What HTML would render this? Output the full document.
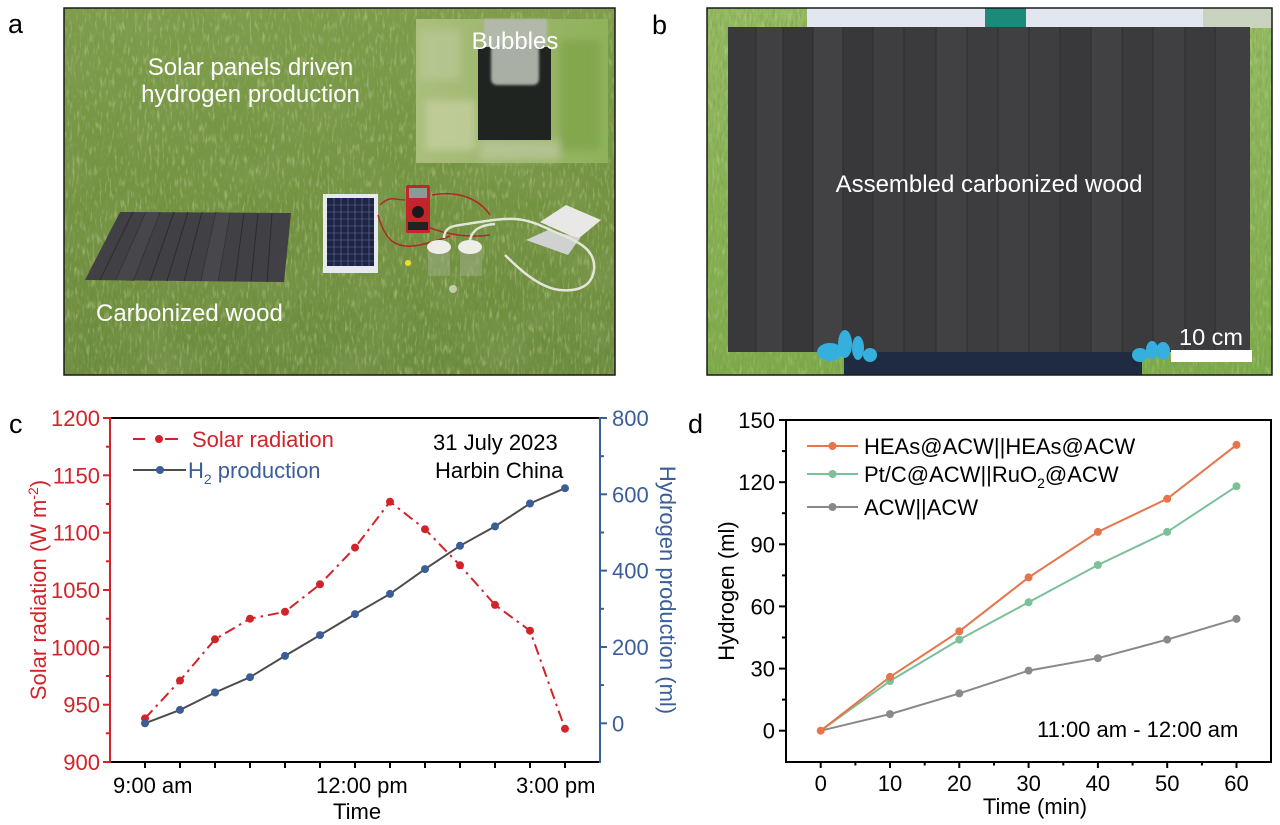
<!DOCTYPE html>
<html>
<head>
<meta charset="utf-8">
<style>
html,body{margin:0;padding:0;background:#fff;}
svg{display:block;}
text{font-family:"Liberation Sans",Arial,sans-serif;}
</style>
</head>
<body>
<svg width="1280" height="825" viewBox="0 0 1280 825" xmlns="http://www.w3.org/2000/svg">
<defs>
  <filter id="gdark" x="0" y="0" width="1" height="1" filterUnits="objectBoundingBox">
    <feTurbulence type="fractalNoise" baseFrequency="0.45 0.1" numOctaves="2" seed="4"/>
    <feColorMatrix type="matrix" values="0 0 0 0 0.2  0 0 0 0 0.3  0 0 0 0 0.08  1.8 0 0 0 -0.75"/>
  </filter>
  <filter id="glight" x="0" y="0" width="1" height="1" filterUnits="objectBoundingBox">
    <feTurbulence type="fractalNoise" baseFrequency="0.4 0.09" numOctaves="2" seed="11"/>
    <feColorMatrix type="matrix" values="0 0 0 0 0.72  0 0 0 0 0.78  0 0 0 0 0.45  1.6 0 0 0 -0.85"/>
  </filter>
  <filter id="blotch" x="0" y="0" width="1" height="1" filterUnits="objectBoundingBox">
    <feTurbulence type="fractalNoise" baseFrequency="0.015 0.02" numOctaves="2" seed="7"/>
    <feColorMatrix type="matrix" values="0 0 0 0 0.25  0 0 0 0 0.35  0 0 0 0 0.1  1.5 0 0 0 -0.6"/>
  </filter>
  <filter id="blur3"><feGaussianBlur stdDeviation="4"/></filter>
  <filter id="blur1"><feGaussianBlur stdDeviation="1.2"/></filter>
  <linearGradient id="grassA" x1="0" y1="0" x2="0" y2="1">
    <stop offset="0" stop-color="#7d9e4b"/>
    <stop offset="0.5" stop-color="#72933f"/>
    <stop offset="1" stop-color="#6a8b3c"/>
  </linearGradient>
  <linearGradient id="grassB" x1="0" y1="0" x2="0" y2="1">
    <stop offset="0" stop-color="#94bb62"/>
    <stop offset="1" stop-color="#7eac4a"/>
  </linearGradient>
  <linearGradient id="insetG" x1="0" y1="0" x2="1" y2="0">
    <stop offset="0" stop-color="#aabf7c"/>
    <stop offset="0.5" stop-color="#9db56d"/>
    <stop offset="1" stop-color="#8fb25a"/>
  </linearGradient>
</defs>

<!-- ================= Panel a ================= -->
<text x="8" y="33" font-size="27" fill="#000">a</text>
<rect x="64" y="8" width="551" height="367" fill="url(#grassA)"/>
<rect x="64" y="8" width="551" height="367" filter="url(#blotch)" opacity="0.6"/>
<rect x="64" y="8" width="551" height="367" filter="url(#gdark)"/>
<rect x="64" y="8" width="551" height="367" filter="url(#glight)" opacity="0.7"/>

<!-- inset bubbles -->
<rect x="416" y="19" width="192" height="144" fill="url(#insetG)"/>
<g filter="url(#blur3)" opacity="0.8">
  <rect x="425" y="100" width="50" height="50" fill="#c4cf9e"/>
  <rect x="560" y="40" width="40" height="110" fill="#7ea54a"/>
  <rect x="420" y="30" width="40" height="50" fill="#b7c894"/>
  <rect x="480" y="140" width="80" height="20" fill="#b8c79a"/>
</g>
<rect x="484" y="19" width="63" height="30" fill="#b2b9aa" filter="url(#blur1)"/>
<rect x="478" y="47" width="73" height="93" fill="#1f2421"/>
<rect x="491" y="45" width="48" height="40" rx="6" fill="#a9afa4" filter="url(#blur1)"/>
<text x="515" y="49" font-size="24" fill="#fff" text-anchor="middle">Bubbles</text>

<!-- carbonized wood -->
<polygon points="120,212 291,213 284,282 85,280" fill="#414145"/>
<g stroke="#2c2c30" stroke-width="1">
  <line x1="133" y1="212" x2="100" y2="280"/><line x1="146" y1="212" x2="116" y2="280"/>
  <line x1="160" y1="212" x2="133" y2="281"/><line x1="174" y1="212" x2="150" y2="281"/>
  <line x1="188" y1="212" x2="167" y2="281"/><line x1="202" y1="212" x2="184" y2="281"/>
  <line x1="216" y1="212" x2="201" y2="281"/><line x1="230" y1="213" x2="218" y2="281"/>
  <line x1="244" y1="213" x2="235" y2="281"/><line x1="258" y1="213" x2="251" y2="281"/>
  <line x1="272" y1="213" x2="267" y2="282"/>
</g>
<polygon points="146,212 160,212 133,281 116,280" fill="#4a4a4f" opacity="0.7"/>
<polygon points="216,212 230,213 218,281 201,281" fill="#4b4b50" opacity="0.7"/>

<!-- solar panel -->
<rect x="323" y="194" width="55" height="79" fill="#e6e9ef"/>
<rect x="327" y="198" width="47" height="68" fill="#1d2446"/>
<g stroke="#6a7396" stroke-width="0.6">
  <line x1="327" y1="205" x2="374" y2="205"/><line x1="327" y1="212" x2="374" y2="212"/>
  <line x1="327" y1="219" x2="374" y2="219"/><line x1="327" y1="226" x2="374" y2="226"/>
  <line x1="327" y1="233" x2="374" y2="233"/><line x1="327" y1="240" x2="374" y2="240"/>
  <line x1="327" y1="247" x2="374" y2="247"/><line x1="327" y1="254" x2="374" y2="254"/>
  <line x1="327" y1="261" x2="374" y2="261"/>
  <line x1="334" y1="198" x2="334" y2="266"/><line x1="341" y1="198" x2="341" y2="266"/>
  <line x1="348" y1="198" x2="348" y2="266"/><line x1="355" y1="198" x2="355" y2="266"/>
  <line x1="362" y1="198" x2="362" y2="266"/><line x1="369" y1="198" x2="369" y2="266"/>
</g>
<!-- wires -->
<g fill="none" stroke="#b3262a" stroke-width="1.5">
  <path d="M380,205 C390,195 395,200 405,200"/>
  <path d="M378,215 C385,240 395,250 420,245 C440,240 445,238 450,236"/>
  <path d="M430,228 C450,235 470,238 490,235"/>
  <path d="M432,195 C460,190 480,200 490,215"/>
</g>
<!-- multimeter -->
<rect x="406" y="185" width="24" height="48" rx="2" fill="#c4252a"/>
<rect x="409" y="188" width="18" height="10" fill="#8b9a98"/>
<circle cx="418" cy="212" r="6" fill="#1a1a1a"/>
<rect x="408" y="222" width="20" height="8" fill="#222"/>
<!-- jars -->
<rect x="428" y="248" width="22" height="28" fill="#9fae8a" opacity="0.5"/>
<rect x="460" y="248" width="22" height="28" fill="#9fae8a" opacity="0.5"/>
<ellipse cx="439" cy="247" rx="12" ry="7" fill="#eeeee8"/>
<ellipse cx="470" cy="247" rx="12" ry="7" fill="#eeeee8"/>
<!-- plates -->
<polygon points="540,222 566,205 601,220 578,239" fill="#e8e8e6"/>
<polygon points="526,240 548,230 580,238 568,255" fill="#cfd2d0"/>
<!-- tube -->
<path d="M444,238 C444,228 452,226 460,225 C480,222 500,218 515,219 C530,220 540,225 555,232 C580,242 596,250 594,270 C592,285 580,292 560,290 C540,288 520,270 505,255" fill="none" stroke="#e3e6da" stroke-width="2.5"/>
<path d="M470,240 C472,230 480,225 495,224" fill="none" stroke="#e3e6da" stroke-width="2.5"/>
<circle cx="408" cy="263" r="3" fill="#f2dd2a"/>
<circle cx="453" cy="289" r="4" fill="#d8dcc4" opacity="0.8"/>

<text x="250.5" y="75" font-size="24" fill="#fff" text-anchor="middle">Solar panels driven</text>
<text x="250.5" y="102" font-size="24" fill="#fff" text-anchor="middle">hydrogen production</text>
<text x="96" y="321" font-size="24" fill="#fff">Carbonized wood</text>
<rect x="64" y="8" width="551" height="367" fill="none" stroke="#1a1a1a" stroke-width="1.5"/>

<!-- ================= Panel b ================= -->
<text x="652" y="34" font-size="27" fill="#000">b</text>
<rect x="707" y="8" width="565" height="367" fill="url(#grassB)"/>
<rect x="707" y="8" width="565" height="367" filter="url(#gdark)" opacity="0.7"/>
<rect x="707" y="8" width="565" height="367" filter="url(#glight)" opacity="0.6"/>
<rect x="807" y="8" width="396" height="20" fill="#e2e6f1"/>
<rect x="985" y="8" width="41" height="20" fill="#1b8a79"/>
<rect x="1203" y="8" width="69" height="20" fill="#c9d3bf"/>
<!-- board -->
<rect x="728" y="27" width="522" height="325" fill="#3c3c3f"/>
<g>
  <rect x="728" y="27" width="28" height="325" fill="#39393c"/>
  <rect x="756" y="27" width="27" height="325" fill="#403f42"/>
  <rect x="783" y="27" width="30" height="325" fill="#37373a"/>
  <rect x="813" y="27" width="30" height="325" fill="#424245"/>
  <rect x="843" y="27" width="30" height="325" fill="#38383b"/>
  <rect x="873" y="27" width="31" height="325" fill="#3e3e41"/>
  <rect x="904" y="27" width="32" height="325" fill="#3b3b3e"/>
  <rect x="936" y="27" width="31" height="325" fill="#414144"/>
  <rect x="967" y="27" width="31" height="325" fill="#3d3d40"/>
  <rect x="998" y="27" width="31" height="325" fill="#404043"/>
  <rect x="1029" y="27" width="31" height="325" fill="#3e3e41"/>
  <rect x="1060" y="27" width="31" height="325" fill="#39393c"/>
  <rect x="1091" y="27" width="31" height="325" fill="#414144"/>
  <rect x="1122" y="27" width="31" height="325" fill="#3b3b3e"/>
  <rect x="1153" y="27" width="32" height="325" fill="#404043"/>
  <rect x="1185" y="27" width="30" height="325" fill="#3b3b3e"/>
  <rect x="1215" y="27" width="35" height="325" fill="#3f3f42"/>
</g>
<g stroke="#2e2e31" stroke-width="1">
  <line x1="756" y1="27" x2="756" y2="352"/><line x1="783" y1="27" x2="783" y2="352"/>
  <line x1="813" y1="27" x2="813" y2="352"/><line x1="843" y1="27" x2="843" y2="352"/>
  <line x1="873" y1="27" x2="873" y2="352"/><line x1="904" y1="27" x2="904" y2="352"/>
  <line x1="936" y1="27" x2="936" y2="352"/><line x1="967" y1="27" x2="967" y2="352"/>
  <line x1="998" y1="27" x2="998" y2="352"/><line x1="1029" y1="27" x2="1029" y2="352"/>
  <line x1="1060" y1="27" x2="1060" y2="352"/><line x1="1091" y1="27" x2="1091" y2="352"/>
  <line x1="1122" y1="27" x2="1122" y2="352"/><line x1="1153" y1="27" x2="1153" y2="352"/>
  <line x1="1185" y1="27" x2="1185" y2="352"/><line x1="1215" y1="27" x2="1215" y2="352"/>
</g>
<rect x="844" y="352" width="298" height="23" fill="#1e2b40"/>
<!-- gloves -->
<g fill="#35b0de">
  <ellipse cx="830" cy="352" rx="13" ry="9"/>
  <ellipse cx="845" cy="344" rx="7" ry="14"/>
  <ellipse cx="858" cy="348" rx="6" ry="12"/>
  <ellipse cx="870" cy="355" rx="7" ry="7"/>
  <ellipse cx="1140" cy="355" rx="8" ry="7"/>
  <ellipse cx="1152" cy="350" rx="6" ry="9"/>
  <ellipse cx="1163" cy="351" rx="7" ry="9"/>
</g>
<rect x="1171" y="350" width="81" height="12" fill="#fff"/>
<text x="1211" y="345" font-size="23.5" fill="#fff" text-anchor="middle">10 cm</text>
<text x="989" y="192" font-size="24" fill="#fff" text-anchor="middle">Assembled carbonized wood</text>
<rect x="707" y="8" width="565" height="367" fill="none" stroke="#1a1a1a" stroke-width="1.5"/>

<!-- ================= Panel c ================= -->
<text x="9" y="433" font-size="27" fill="#000">c</text>
<line x1="110" y1="418" x2="600" y2="418" stroke="#000" stroke-width="2"/>
<line x1="109" y1="762" x2="601" y2="762" stroke="#000" stroke-width="2"/>
<line x1="110" y1="417" x2="110" y2="763" stroke="#d2232a" stroke-width="2"/>
<line x1="600" y1="417" x2="600" y2="763" stroke="#3b5e99" stroke-width="2"/>
<g stroke="#d2232a" stroke-width="2">
  <line x1="103" y1="418" x2="110" y2="418"/><line x1="103" y1="475.3" x2="110" y2="475.3"/>
  <line x1="103" y1="532.7" x2="110" y2="532.7"/><line x1="103" y1="590" x2="110" y2="590"/>
  <line x1="103" y1="647.3" x2="110" y2="647.3"/><line x1="103" y1="704.7" x2="110" y2="704.7"/>
  <line x1="103" y1="762" x2="110" y2="762"/>
  <line x1="106" y1="446.7" x2="110" y2="446.7"/><line x1="106" y1="504" x2="110" y2="504"/>
  <line x1="106" y1="561.3" x2="110" y2="561.3"/><line x1="106" y1="618.7" x2="110" y2="618.7"/>
  <line x1="106" y1="676" x2="110" y2="676"/><line x1="106" y1="733.3" x2="110" y2="733.3"/>
</g>
<g stroke="#3b5e99" stroke-width="2">
  <line x1="600" y1="418" x2="607" y2="418"/><line x1="600" y1="494.3" x2="607" y2="494.3"/>
  <line x1="600" y1="570.6" x2="607" y2="570.6"/><line x1="600" y1="647" x2="607" y2="647"/>
  <line x1="600" y1="723.3" x2="607" y2="723.3"/>
  <line x1="600" y1="456.2" x2="604" y2="456.2"/><line x1="600" y1="532.5" x2="604" y2="532.5"/>
  <line x1="600" y1="608.8" x2="604" y2="608.8"/><line x1="600" y1="685.1" x2="604" y2="685.1"/>
</g>
<g stroke="#000" stroke-width="2">
  <line x1="145" y1="762" x2="145" y2="768"/><line x1="180" y1="762" x2="180" y2="768"/>
  <line x1="215" y1="762" x2="215" y2="768"/><line x1="250" y1="762" x2="250" y2="768"/>
  <line x1="285" y1="762" x2="285" y2="768"/><line x1="320" y1="762" x2="320" y2="768"/>
  <line x1="355" y1="762" x2="355" y2="768"/><line x1="390" y1="762" x2="390" y2="768"/>
  <line x1="425" y1="762" x2="425" y2="768"/><line x1="460" y1="762" x2="460" y2="768"/>
  <line x1="495" y1="762" x2="495" y2="768"/><line x1="530" y1="762" x2="530" y2="768"/>
  <line x1="565" y1="762" x2="565" y2="768"/>
</g>
<g font-size="22" fill="#d2232a" text-anchor="end">
  <text x="100" y="426">1200</text><text x="100" y="483.3">1150</text>
  <text x="100" y="540.7">1100</text><text x="100" y="598">1050</text>
  <text x="100" y="655.3">1000</text><text x="100" y="712.7">950</text>
  <text x="100" y="770">900</text>
</g>
<g font-size="22" fill="#3b5e99">
  <text x="612" y="426">800</text><text x="612" y="502.3">600</text>
  <text x="612" y="578.6">400</text><text x="612" y="655">200</text>
  <text x="612" y="731.3">0</text>
</g>
<g font-size="22" fill="#000">
  <text x="113" y="793">9:00 am</text>
  <text x="316" y="793">12:00 pm</text>
  <text x="516" y="793">3:00 pm</text>
  <text x="333" y="819">Time</text>
</g>
<text transform="translate(46,590) rotate(-90)" font-size="22" fill="#d2232a" text-anchor="middle">Solar radiation (W m<tspan dy="-8" font-size="14">-2</tspan><tspan dy="8">)</tspan></text>
<text transform="translate(660,590) rotate(90)" font-size="22" fill="#3b5e99" text-anchor="middle">Hydrogen production (ml)</text>

<polyline points="145,718.4 180,680.6 215,639.3 250,618.7 285,611.8 320,584.3 355,547.6 390,501.7 425,529.2 460,565.3 495,604.9 530,630.7 565,728.7" fill="none" stroke="#d2232a" stroke-width="2" stroke-dasharray="11,5,2.5,5"/>
<polyline points="145,723.3 180,709.9 215,692.5 250,677.2 285,655.9 320,635.1 355,614.1 390,593.9 425,569.1 460,545.8 495,526.4 530,503.5 565,488.2" fill="none" stroke="#4d4d4d" stroke-width="2"/>
<g fill="#d2232a">
  <circle cx="145" cy="718.4" r="4"/><circle cx="180" cy="680.6" r="4"/><circle cx="215" cy="639.3" r="4"/>
  <circle cx="250" cy="618.7" r="4"/><circle cx="285" cy="611.8" r="4"/><circle cx="320" cy="584.3" r="4"/>
  <circle cx="355" cy="547.6" r="4"/><circle cx="390" cy="501.7" r="4"/><circle cx="425" cy="529.2" r="4"/>
  <circle cx="460" cy="565.3" r="4"/><circle cx="495" cy="604.9" r="4"/><circle cx="530" cy="630.7" r="4"/>
  <circle cx="565" cy="728.7" r="4"/>
</g>
<g fill="#3b5e99">
  <circle cx="145" cy="723.3" r="4"/><circle cx="180" cy="709.9" r="4"/><circle cx="215" cy="692.5" r="4"/>
  <circle cx="250" cy="677.2" r="4"/><circle cx="285" cy="655.9" r="4"/><circle cx="320" cy="635.1" r="4"/>
  <circle cx="355" cy="614.1" r="4"/><circle cx="390" cy="593.9" r="4"/><circle cx="425" cy="569.1" r="4"/>
  <circle cx="460" cy="545.8" r="4"/><circle cx="495" cy="526.4" r="4"/><circle cx="530" cy="503.5" r="4"/>
  <circle cx="565" cy="488.2" r="4"/>
</g>
<line x1="133" y1="439" x2="145" y2="439" stroke="#d2232a" stroke-width="2"/>
<line x1="165" y1="439" x2="178" y2="439" stroke="#d2232a" stroke-width="2"/>
<circle cx="159" cy="439" r="4" fill="#d2232a"/>
<text x="192" y="447" font-size="22" fill="#d2232a">Solar radiation</text>
<line x1="133" y1="470" x2="186" y2="470" stroke="#4d4d4d" stroke-width="2"/>
<circle cx="160" cy="470" r="4" fill="#3b5e99"/>
<text x="188" y="478" font-size="22" fill="#3b5e99">H<tspan dy="6" font-size="14">2</tspan><tspan dy="-6"> production</tspan></text>
<text x="433" y="450" font-size="22" fill="#000">31 July 2023</text>
<text x="435" y="478" font-size="22" fill="#000">Harbin China</text>

<!-- ================= Panel d ================= -->
<text x="688" y="433" font-size="27" fill="#000">d</text>
<rect x="786" y="420" width="485" height="342" fill="none" stroke="#000" stroke-width="2"/>
<g stroke="#000" stroke-width="2">
  <line x1="779" y1="420" x2="786" y2="420"/><line x1="779" y1="482.2" x2="786" y2="482.2"/>
  <line x1="779" y1="544.3" x2="786" y2="544.3"/><line x1="779" y1="606.4" x2="786" y2="606.4"/>
  <line x1="779" y1="668.6" x2="786" y2="668.6"/><line x1="779" y1="730.7" x2="786" y2="730.7"/>
  <line x1="782" y1="451.1" x2="786" y2="451.1"/><line x1="782" y1="513.2" x2="786" y2="513.2"/>
  <line x1="782" y1="575.4" x2="786" y2="575.4"/><line x1="782" y1="637.5" x2="786" y2="637.5"/>
  <line x1="782" y1="699.6" x2="786" y2="699.6"/>
  <line x1="820.7" y1="762" x2="820.7" y2="768"/><line x1="890" y1="762" x2="890" y2="768"/>
  <line x1="959.3" y1="762" x2="959.3" y2="768"/><line x1="1028.6" y1="762" x2="1028.6" y2="768"/>
  <line x1="1097.9" y1="762" x2="1097.9" y2="768"/><line x1="1167.2" y1="762" x2="1167.2" y2="768"/>
  <line x1="1236.5" y1="762" x2="1236.5" y2="768"/>
  <line x1="855.4" y1="762" x2="855.4" y2="765.5"/><line x1="924.7" y1="762" x2="924.7" y2="765.5"/>
  <line x1="994" y1="762" x2="994" y2="765.5"/><line x1="1063.3" y1="762" x2="1063.3" y2="765.5"/>
  <line x1="1132.6" y1="762" x2="1132.6" y2="765.5"/><line x1="1201.9" y1="762" x2="1201.9" y2="765.5"/>
</g>
<g font-size="22" fill="#000" text-anchor="end">
  <text x="775" y="428">150</text><text x="775" y="490.2">120</text>
  <text x="775" y="552.3">90</text><text x="775" y="614.4">60</text>
  <text x="775" y="676.6">30</text><text x="775" y="738.7">0</text>
</g>
<g font-size="22" fill="#000" text-anchor="middle">
  <text x="820.7" y="791">0</text><text x="890" y="791">10</text>
  <text x="959.3" y="791">20</text><text x="1028.6" y="791">30</text>
  <text x="1097.9" y="791">40</text><text x="1167.2" y="791">50</text>
  <text x="1236.5" y="791">60</text>
  <text x="1035" y="814">Time (min)</text>
</g>
<text transform="translate(734,591) rotate(-90)" font-size="22" fill="#000" text-anchor="middle">Hydrogen (ml)</text>

<polyline points="820.7,730.7 890,714.1 959.3,693.4 1028.6,670.6 1097.9,658.2 1167.2,639.6 1236.5,618.9" fill="none" stroke="#898989" stroke-width="2"/>
<polyline points="820.7,730.7 890,681.0 959.3,639.6 1028.6,602.3 1097.9,565.0 1167.2,531.9 1236.5,486.3" fill="none" stroke="#7cc09a" stroke-width="2"/>
<polyline points="820.7,730.7 890,676.9 959.3,631.3 1028.6,577.4 1097.9,531.9 1167.2,498.8 1236.5,444.9" fill="none" stroke="#e6754c" stroke-width="2"/>
<g fill="#898989">
  <circle cx="890" cy="714.1" r="4"/><circle cx="959.3" cy="693.4" r="4"/><circle cx="1028.6" cy="670.6" r="4"/>
  <circle cx="1097.9" cy="658.2" r="4"/><circle cx="1167.2" cy="639.6" r="4"/><circle cx="1236.5" cy="618.9" r="4"/>
</g>
<g fill="#7cc09a">
  <circle cx="890" cy="681.0" r="4"/><circle cx="959.3" cy="639.6" r="4"/><circle cx="1028.6" cy="602.3" r="4"/>
  <circle cx="1097.9" cy="565.0" r="4"/><circle cx="1167.2" cy="531.9" r="4"/><circle cx="1236.5" cy="486.3" r="4"/>
</g>
<g fill="#e6754c">
  <circle cx="820.7" cy="730.7" r="4"/>
  <circle cx="890" cy="676.9" r="4"/><circle cx="959.3" cy="631.3" r="4"/><circle cx="1028.6" cy="577.4" r="4"/>
  <circle cx="1097.9" cy="531.9" r="4"/><circle cx="1167.2" cy="498.8" r="4"/><circle cx="1236.5" cy="444.9" r="4"/>
</g>
<line x1="807" y1="446" x2="858" y2="446" stroke="#e6754c" stroke-width="2"/>
<circle cx="832.5" cy="446" r="4" fill="#e6754c"/>
<text x="864" y="454" font-size="22" fill="#000">HEAs@ACW||HEAs@ACW</text>
<line x1="807" y1="474" x2="858" y2="474" stroke="#7cc09a" stroke-width="2"/>
<circle cx="832.5" cy="474" r="4" fill="#7cc09a"/>
<text x="864" y="482" font-size="22" fill="#000">Pt/C@ACW||RuO<tspan dy="6" font-size="14">2</tspan><tspan dy="-6">@ACW</tspan></text>
<line x1="807" y1="507" x2="858" y2="507" stroke="#898989" stroke-width="2"/>
<circle cx="832.5" cy="507" r="4" fill="#898989"/>
<text x="864" y="515" font-size="22" fill="#000">ACW||ACW</text>
<text x="1037" y="737" font-size="22" fill="#000">11:00 am - 12:00 am</text>
</svg>
</body>
</html>
